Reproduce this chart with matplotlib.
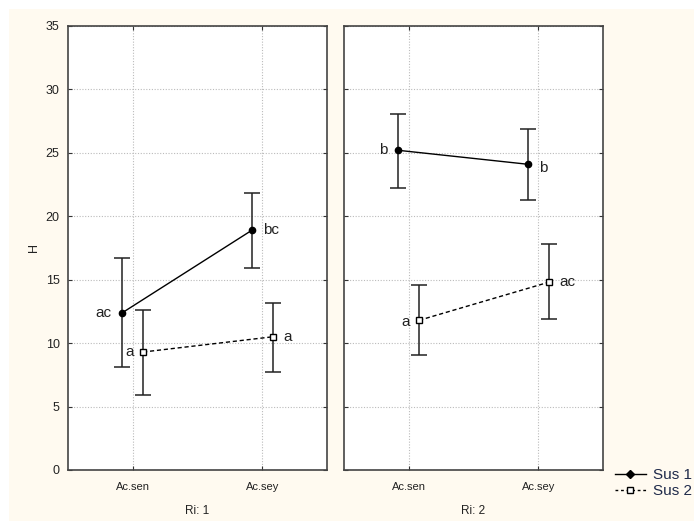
import matplotlib
matplotlib.use("Agg")
import matplotlib.pyplot as plt
from matplotlib.patches import Rectangle
from matplotlib.lines import Line2D

plt.rcParams['font.family'] = ['Liberation Sans', 'DejaVu Sans']

categories = ["Ac.sen", "Ac.sey"]
panels = ["Ri: 1", "Ri: 2"]

# means and confidence limits per panel: [Ac.sen, Ac.sey]
sus1_mean = [[12.4, 18.9], [25.2, 24.1]]
sus1_low = [[8.1, 15.9], [22.2, 21.3]]
sus1_high = [[16.7, 21.8], [28.1, 26.9]]

sus2_mean = [[9.3, 10.5], [11.8, 14.8]]
sus2_low = [[5.9, 7.7], [9.1, 11.9]]
sus2_high = [[12.6, 13.2], [14.6, 17.8]]

sus1_letters = [["ac", "bc"], ["b", "b"]]
sus2_letters = [["a", "a"], ["a", "ac"]]

W, H = 694, 521
fig = plt.figure(figsize=(W / 100, H / 100), dpi=100)
fig.patch.set_facecolor("white")
fig.add_artist(Rectangle((9 / W, 0), 1 - 9 / W, 1 - 9 / H, transform=fig.transFigure,
                         facecolor="#fffaf0", edgecolor="none", zorder=-10))

txt = "#222222"
ax_left = [68, 344]
ax_w = 259
ax_top, ax_bot = 26, 470
off = 0.08

# label placement (offset in points, horizontal alignment) for each mark
sus1_pos = [[(-8, 0, "right"), (8, 0, "left")], [(-8, 0, "right"), (8, -2.5, "left")]]
sus2_pos = [[(-7, 0, "right"), (8, 0, "left")], [(-7, -1, "right"), (8, 0, "left")]]

for p in range(2):
    ax = fig.add_axes([ax_left[p] / W, 1 - ax_bot / H, ax_w / W, (ax_bot - ax_top) / H])
    ax.set_facecolor("white")
    x = [0, 1]
    x1 = [v - off for v in x]
    x2 = [v + off for v in x]
    m1, m2 = sus1_mean[p], sus2_mean[p]
    e1 = [[m - l for m, l in zip(m1, sus1_low[p])], [h - m for m, h in zip(m1, sus1_high[p])]]
    e2 = [[m - l for m, l in zip(m2, sus2_low[p])], [h - m for m, h in zip(m2, sus2_high[p])]]
    ax.errorbar(x1, m1, yerr=e1, fmt="none", ecolor="#222222", elinewidth=1.1,
                capsize=5.5, capthick=1.1, zorder=3)
    ax.errorbar(x2, m2, yerr=e2, fmt="none", ecolor="#222222", elinewidth=1.1,
                capsize=5.5, capthick=1.1, zorder=3)
    ax.plot(x1, m1, color="black", lw=1.0, ls="-", marker="o", ms=4.5,
            mfc="black", mec="black", zorder=4)
    ax.plot(x2, m2, color="black", lw=1.0, ls=(0, (3, 2)), marker="s", ms=5,
            mfc="white", mec="black", mew=1.0, zorder=4)

    ax.set_xlim(-0.5, 1.5)
    ax.set_ylim(0, 35)
    ax.set_yticks(range(0, 36, 5))
    ax.set_xticks(x)
    ax.set_xticklabels(categories, fontsize=8, color=txt)
    ax.tick_params(direction="in", length=3, top=True, right=True, width=0.8,
                   color="#333333")
    ax.tick_params(axis="x", pad=9)
    if p == 0:
        ax.tick_params(axis="y", labelsize=9, labelcolor=txt, pad=6)
        ax.set_ylabel("H", fontsize=9, color=txt, labelpad=4)
    else:
        ax.tick_params(axis="y", labelleft=False)
    ax.grid(True, ls=(0, (1, 1.5)), color="#bbbbbb", lw=0.8)
    ax.set_axisbelow(True)
    for s in ax.spines.values():
        s.set_color("#444444")
        s.set_linewidth(1.2)
    ax.set_xlabel(panels[p], fontsize=8.5, color=txt, labelpad=9)

    # significance letters
    for i in range(2):
        dx, dy, ha = sus1_pos[p][i]
        ax.annotate(sus1_letters[p][i], (x1[i], m1[i]), xytext=(dx, dy),
                    textcoords="offset points", ha=ha, va="center", fontsize=11, color=txt)
        dx, dy, ha = sus2_pos[p][i]
        ax.annotate(sus2_letters[p][i], (x2[i], m2[i]), xytext=(dx, dy),
                    textcoords="offset points", ha=ha, va="center", fontsize=11, color=txt)

handles = [
    Line2D([], [], color="black", lw=1.0, marker="D", ms=4, mfc="black"),
    Line2D([], [], color="black", lw=1.0, ls=(0, (2, 2)), marker="s", ms=5, mfc="white"),
]
fig.legend(handles, ["Sus 1", "Sus 2"], loc="upper left",
           bbox_to_anchor=(609 / W, 1 - 462 / H), frameon=False, fontsize=11,
           handlelength=2.0, handletextpad=0.5, labelspacing=0.15, borderaxespad=0,
           labelcolor="#1f2a4a")

fig.savefig("out.png", dpi=100, facecolor=fig.get_facecolor())
